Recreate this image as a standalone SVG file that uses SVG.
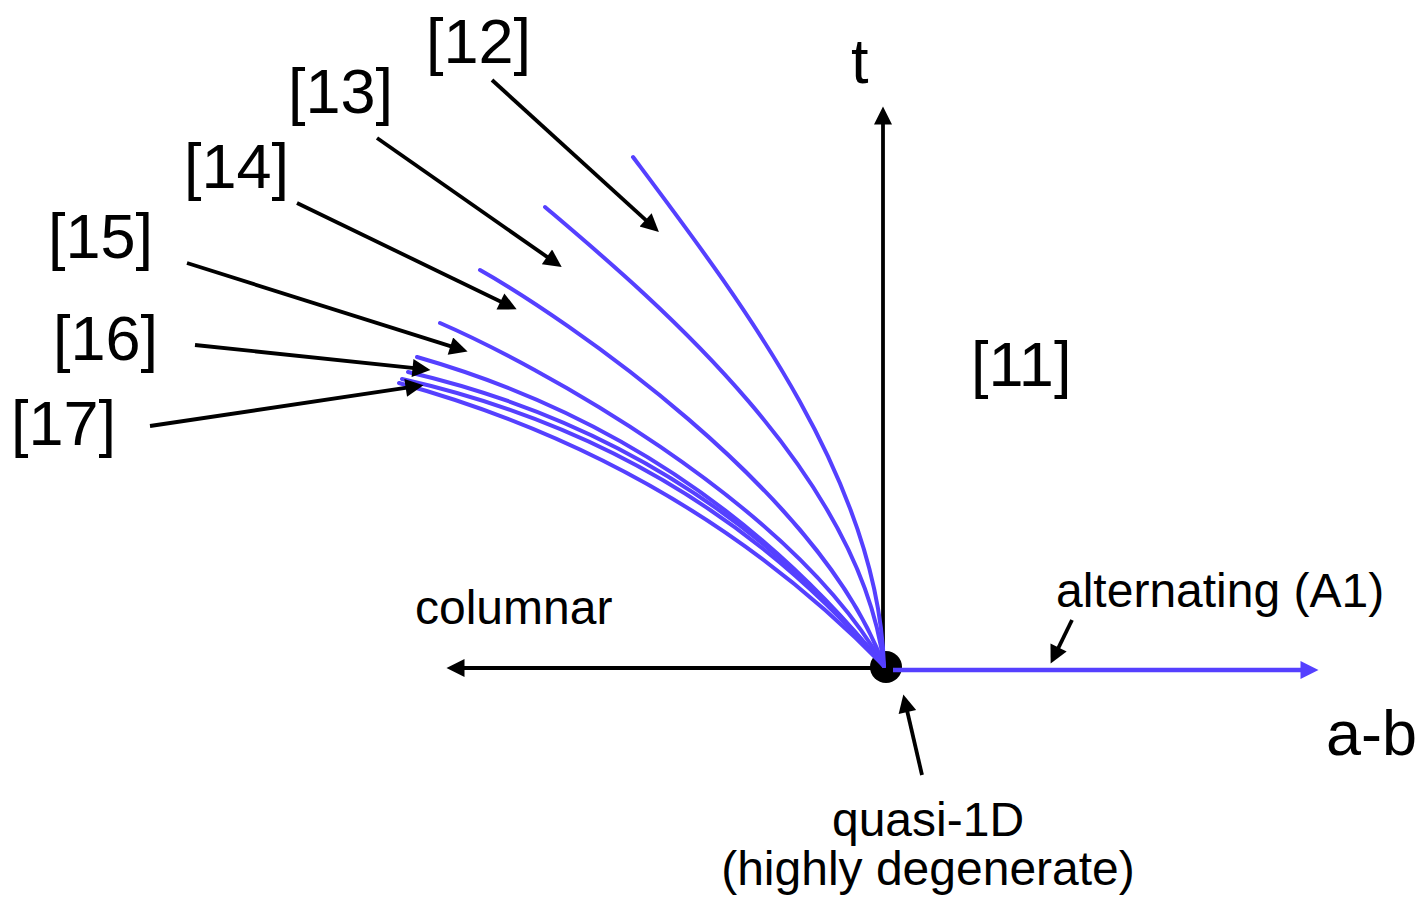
<svg xmlns="http://www.w3.org/2000/svg" width="1422" height="902" viewBox="0 0 1422 902">
<style>
.lbl{font-family:"Liberation Sans",Arial,sans-serif;font-size:63px;fill:#000}
.sm{font-family:"Liberation Sans",Arial,sans-serif;font-size:48px;fill:#000}
.blk{stroke:#000;stroke-width:3.8;fill:none;marker-end:url(#ah)}
.crv{stroke:#5540ff;stroke-width:4;fill:none;stroke-linecap:round}
</style>
<defs>
<marker id="ah" viewBox="0 0 10 10" refX="6.4" refY="5" markerWidth="24" markerHeight="18" markerUnits="userSpaceOnUse" orient="auto">
<path d="M0,0 L10,5 L0,10 z" fill="#000"/>
</marker>
<marker id="bh" viewBox="0 0 10 10" refX="6.4" refY="5" markerWidth="23" markerHeight="18" markerUnits="userSpaceOnUse" orient="auto">
<path d="M0,0 L10,5 L0,10 z" fill="#5540ff"/>
</marker>
</defs>
<g id="origin"><circle cx="886" cy="667" r="16" fill="#000"/></g>
<g id="axes">
<line class="blk" x1="883" y1="668" x2="883" y2="113"/>
<line class="blk" x1="883" y1="668" x2="453" y2="668"/>
<line x1="893" y1="670" x2="1312" y2="670" stroke="#5540ff" stroke-width="4.5" marker-end="url(#bh)"/>
</g>
<g id="curves">
<path class="crv" d="M633,157 C740,300 878,480 884,666"/>
<path class="crv" d="M545,207 C645,292 860,470 884,666"/>
<path class="crv" d="M480,270 C560,315 820,490 884,666"/>
<path class="crv" d="M440,323 C530,362 790,500 884,666"/>
<path class="crv" d="M417,357 Q700,438 884,666"/>
<path class="crv" d="M408,372 Q700,440 884,666"/>
<path class="crv" d="M402,379 Q695,445 884,666"/>
<path class="crv" d="M399,383 Q685,462 884,666"/>
</g>
<g id="connectors">
<line class="blk" x1="492" y1="80" x2="654.1" y2="227.6"/>
<line class="blk" x1="377" y1="138" x2="556.4" y2="263.4"/>
<line class="blk" x1="297" y1="203" x2="510.8" y2="306.5"/>
<line class="blk" x1="187" y1="263" x2="461.4" y2="349.6"/>
<line class="blk" x1="195" y1="345" x2="424" y2="369.2"/>
<line class="blk" x1="150" y1="426" x2="417.1" y2="386.2"/>
<line class="blk" x1="1072" y1="620" x2="1053.5" y2="657.8"/>
<line class="blk" x1="922" y1="775" x2="904.8" y2="700.8"/>
</g>
<g id="labels">
<text class="lbl" x="426" y="63">[12]</text>
<text class="lbl" x="288" y="113">[13]</text>
<text class="lbl" x="184" y="188">[14]</text>
<text class="lbl" x="48" y="258">[15]</text>
<text class="lbl" x="53" y="360">[16]</text>
<text class="lbl" x="11" y="445">[17]</text>
<text class="lbl" x="971" y="386">[11]</text>
<text class="lbl" x="851" y="83">t</text>
<text class="lbl" x="1326" y="755">a-b</text>
<text class="sm" x="415" y="624">columnar</text>
<text class="sm" x="1056" y="607">alternating (A1)</text>
<text class="sm" x="928" y="836" text-anchor="middle">quasi-1D</text>
<text class="sm" x="928" y="885" text-anchor="middle">(highly degenerate)</text>
</g>
</svg>
